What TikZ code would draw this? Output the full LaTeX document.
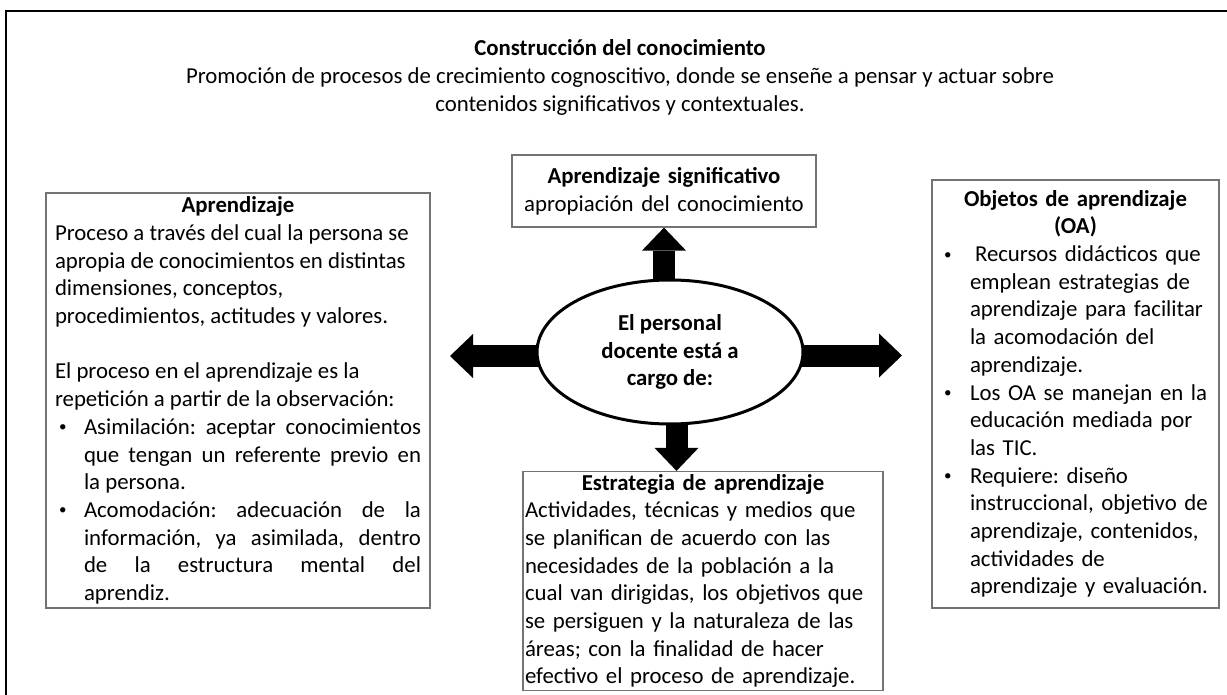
\documentclass[tikz,border=0pt]{standalone}
\usepackage{fontspec}
\setmainfont{Carlito}
\usepackage{tikz}
\usetikzlibrary{arrows.meta}
\usetikzlibrary{shapes.geometric}
\usetikzlibrary{backgrounds}
\setlength{\parindent}{0pt}
\frenchspacing
\hyphenpenalty=10000
\exhyphenpenalty=10000
\tikzset{every node/.style = {font=\fontsize{22.8}{27.7}\selectfont}}
\tikzset{txtbox/.style = {draw=black!55, line width=1.2pt, rectangle, inner ysep=0pt}}
\tikzset{blockarrow/.style = {line width=22pt, -{Triangle[width=44pt, length=23pt, line width=0pt]}}}
\newcommand{\dotmark}{\raisebox{2.5pt}{\fontsize{15}{15}\selectfont\textbullet}}
\newcommand{\bitem}[2]{\par\hangindent=#1\hangafter=1\makebox[#1][l]{\hspace{4pt}\dotmark}#2}

\begin{document}
\begin{tikzpicture}[x=1pt, y=-1pt]
      \useasboundingbox (0,0) rectangle (1227,695);
      \draw [line width=2.5pt] (6,695) -- (6,11) -- (1227,11);

      \node [align=center] (tit) at (620,77.5)
        {\textbf{Construcción del conocimiento}\\
         Promoción de procesos de crecimiento cognoscitivo, donde se enseñe a pensar y actuar sobre\\
         contenidos significativos y contextuales.};

      \node [txtbox, inner xsep=9pt, text width=366pt, minimum width=384pt, minimum height=415pt,
             align=justify] (apr) at (238,400.5)
        {\centerline{\textbf{Aprendizaje}}
         Proceso a través del cual la persona se\newline
         apropia de conocimientos en distintas\newline
         dimensiones, conceptos,\newline
         procedimientos, actitudes y valores.\par
         \mbox{}\par
         El proceso en el aprendizaje es la\newline
         repetición a partir de la observación:
         \bitem{29pt}{Asimilación: aceptar conocimientos\linebreak
           que tengan un referente previo en\linebreak la persona.}
         \bitem{29pt}{Acomodación: adecuación de la\linebreak
           información, ya asimilada, dentro\linebreak
           de la estructura mental del\linebreak aprendiz.}\par};

      \node [txtbox, inner xsep=4pt, text width=296pt, minimum width=304pt, minimum height=72pt,
             align=center] (sig) at (664,191)
        {\textbf{Aprendizaje significativo}\\apropiación del conocimiento};

      \node [txtbox, inner xsep=8pt, text width=271pt, minimum width=287pt, minimum height=428pt,
             align=left] (oa) at (1075.5,394)
        {\centerline{\textbf{Objetos de aprendizaje}}
         \centerline{\textbf{(OA)}}
         \bitem{30pt}{\hspace{5pt}Recursos didácticos que\newline emplean estrategias de\newline
           aprendizaje para facilitar\newline la acomodación del\newline aprendizaje.}
         \bitem{30pt}{Los OA se manejan en la\newline educación mediada por\newline las TIC.}
         \bitem{30pt}{Requiere: diseño\newline instruccional, objetivo de\newline aprendizaje, contenidos,\newline
           actividades de\newline aprendizaje y evaluación.}\par};

      \node [txtbox, inner xsep=2pt, text width=356pt, minimum width=360pt, minimum height=219pt,
             align=left] (est) at (703,581)
        {\centerline{\textbf{Estrategia de aprendizaje}}
         Actividades, técnicas y medios que\\
         se planifican de acuerdo con las\\
         necesidades de la población a la\\
         cual van dirigidas, los objetivos que\\
         se persiguen y la naturaleza de las\\
         áreas; con la finalidad de hacer\\
         efectivo el proceso de aprendizaje.\par};

      \node [ellipse, draw, line width=3pt, fill=white, inner sep=0pt, minimum width=266pt,
             minimum height=144pt, align=center, font=\fontsize{22.8}{27.7}\selectfont\bfseries]
        (doc) at (670,352) {El personal\\docente está a\\cargo de:};

      \coordinate (lefttip) at (450,356);
      \coordinate (righttip) at (902,355.5);

      \begin{pgfonlayer}{background}
        \draw [blockarrow] (sig.south |- doc.center) -- (sig.south);
        \draw [blockarrow] ([xshift=6.5pt]doc.center) -- ([xshift=6.5pt]doc.center |- est.north);
        \draw [blockarrow] ([yshift=-4pt]doc.center) -- (lefttip);
        \draw [blockarrow] ([yshift=-3.5pt]doc.center) -- (righttip);
      \end{pgfonlayer}
\end{tikzpicture}
\end{document}
